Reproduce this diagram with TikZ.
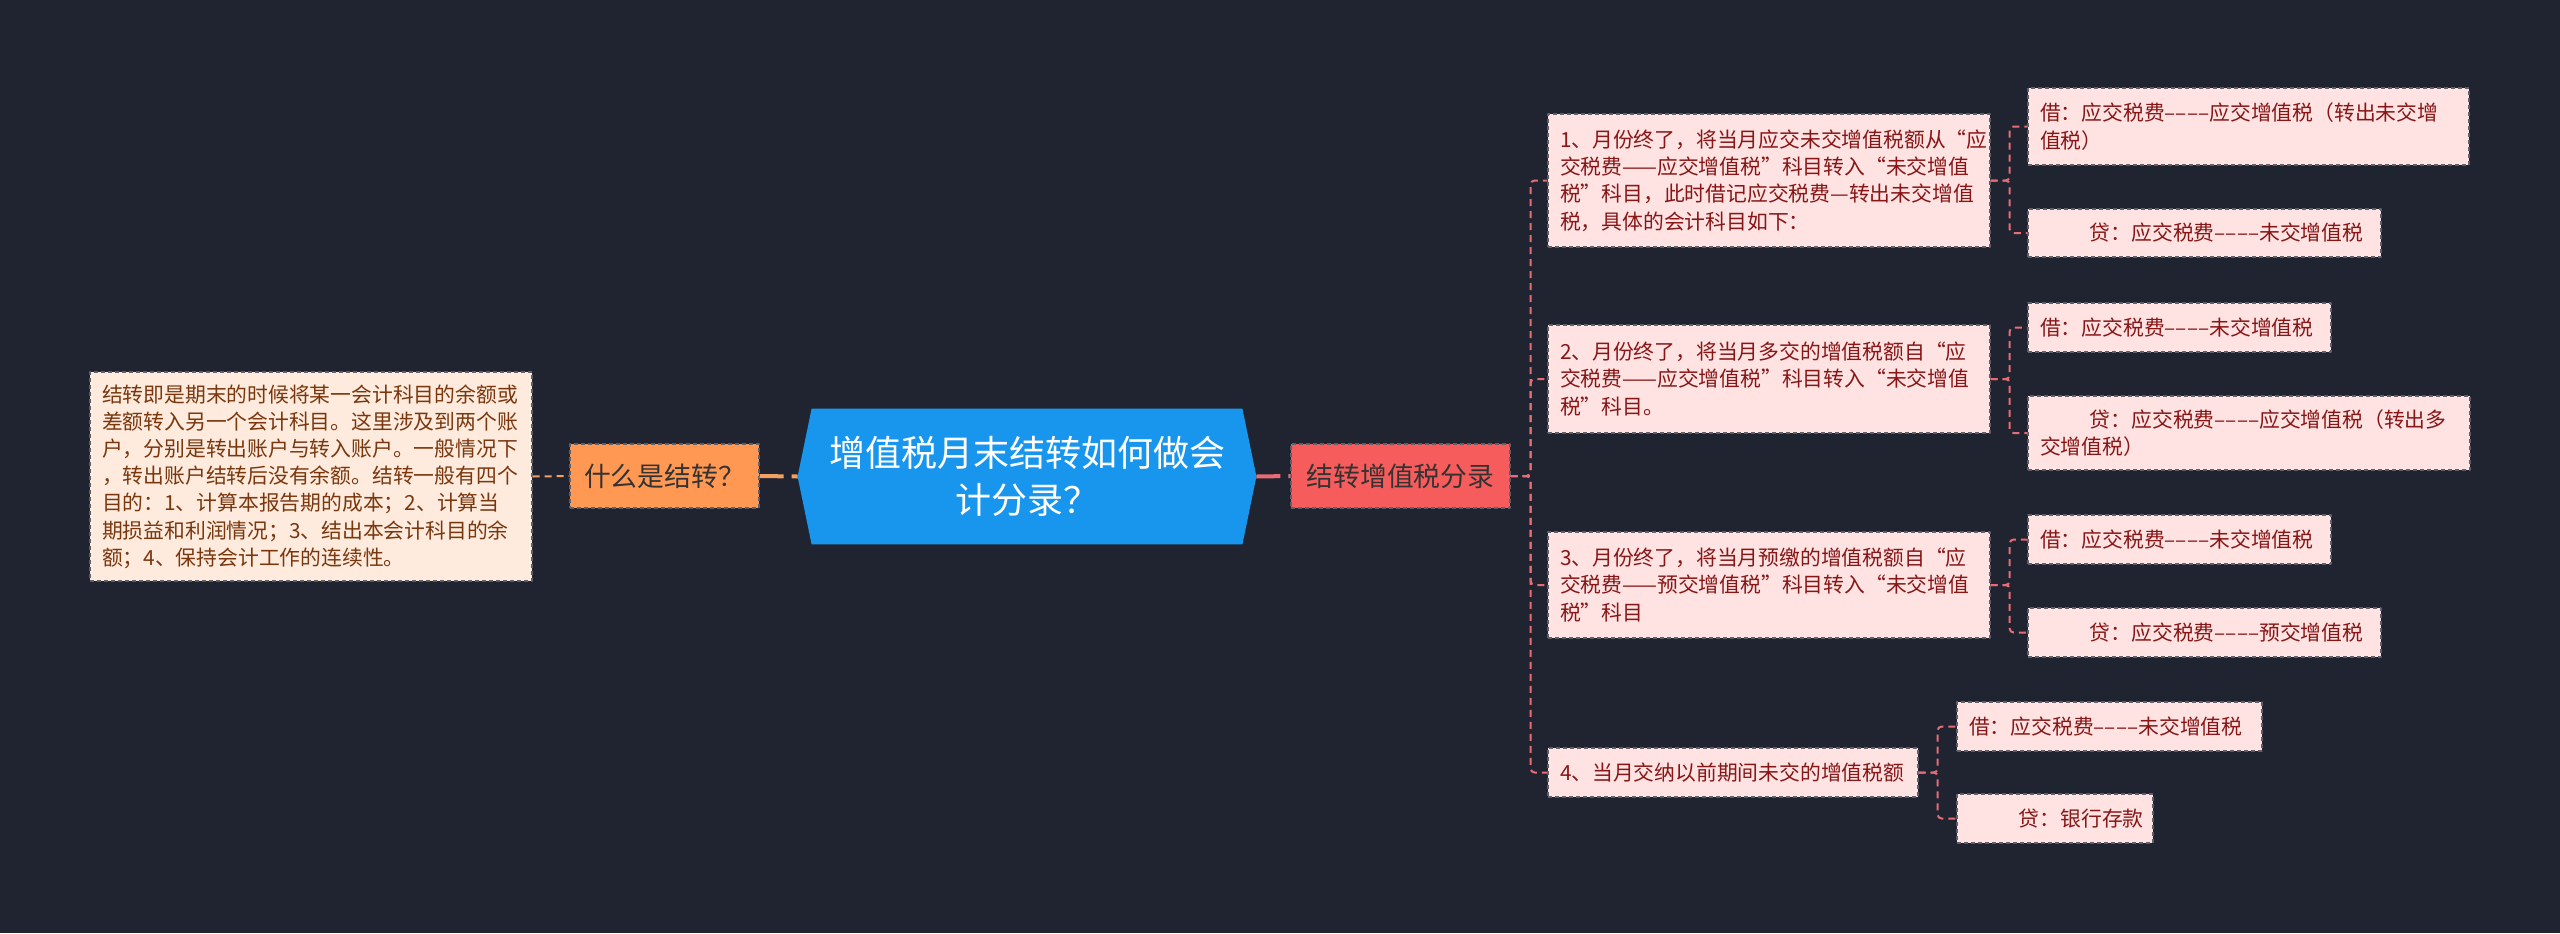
\documentclass[tikz,border=0pt]{standalone}
\usepackage{fontspec}
\setmainfont{Noto Sans CJK SC}
\definecolor{pagebg}{RGB}{32,36,48}
\definecolor{boxfill}{RGB}{255,226,226}
\definecolor{boxtext}{RGB}{135,22,22}
\definecolor{boxline}{RGB}{95,95,105}
\definecolor{peachfill}{RGB}{254,235,221}
\definecolor{peachtext}{RGB}{122,55,14}
\definecolor{orangefill}{RGB}{255,152,82}
\definecolor{redfill}{RGB}{246,92,92}
\definecolor{rootfill}{RGB}{24,150,238}
\definecolor{pinkline}{RGB}{232,108,118}
\definecolor{orangeline}{RGB}{242,160,100}
\pgfdeclarelayer{back}
\pgfsetlayers{back,main}
\begin{document}
\begin{tikzpicture}[x=0.5pt, y=-0.5pt, line join=round]
		\tikzset{
			box/.style={draw=boxline, dash pattern=on 2pt off 1.5pt, line width=0.6pt, fill=boxfill, text=boxtext, align=left, inner xsep=6pt, inner ysep=0pt, font=\fontsize{10.4}{13.6}\selectfont},
			leftbox/.style={box, fill=peachfill, text=peachtext},
			topic/.style={draw=boxline, dash pattern=on 2pt off 1.5pt, line width=0.6pt, text=black!80, align=center, minimum height=32pt, inner sep=0pt, font=\fontsize{13.4}{16}\selectfont},
			roottext/.style={text=white, align=center, minimum width=229pt, minimum height=67.5pt, inner sep=0pt, font=\fontsize{18}{23.5}\selectfont},
			plink/.style={draw=pinkline, line width=1pt, dash pattern=on 3.5pt off 2.5pt, rounded corners=2pt},
			thick link/.style={line width=2pt, dash pattern=on 12pt off 4pt}
		}
		\def\indent{\hspace*{2.4em}}
		\begin{pgfonlayer}{back}
			\fill[pagebg] (0,0) rectangle (2560,933);
		\end{pgfonlayer}
		% left side
		\node[leftbox, text width=209pt, minimum height=104.5pt] (lbox) at (311,476.5) {结转即是期末的时候将某一会计科目的余额或\\差额转入另一个会计科目。这里涉及到两个账\\户，分别是转出账户与转入账户。一般情况下\\，转出账户结转后没有余额。结转一般有四个\\目的：1、计算本报告期的成本；2、计算当\\期损益和利润情况；3、结出本会计科目的余\\额；4、保持会计工作的连续性。};
		\node[topic, fill=orangefill, minimum width=94.5pt] (what) at (664.5,476) {什么是结转？};
		% root
		\node[roottext] (root) at (1027,476.5) {增值税月末结转如何做会\\计分录？};
		\begin{pgfonlayer}{back}
			\fill[rootfill] (root.west) -- ([xshift=7pt]root.north west) -- ([xshift=-7pt]root.north east) -- (root.east) -- ([xshift=-7pt]root.south east) -- ([xshift=7pt]root.south west) -- cycle;
		\end{pgfonlayer}
		% right side
		\node[topic, fill=redfill, minimum width=109.5pt] (fenlu) at (1400.5,476) {结转增值税分录};
		\node[box, text width=209pt, minimum height=66.5pt] (b1) at (1769,180.5) {1、月份终了，将当月应交未交增值税额从“应\\交税费——应交增值税”科目转入“未交增值\\税”科目，此时借记应交税费—转出未交增值\\税，具体的会计科目如下：};
		\node[box, text width=209pt, minimum height=54pt] (b2) at (1769,379) {2、月份终了，将当月多交的增值税额自“应\\交税费——应交增值税”科目转入“未交增值\\税”科目。};
		\node[box, text width=209pt, minimum height=53pt] (b3) at (1769,585) {3、月份终了，将当月预缴的增值税额自“应\\交税费——预交增值税”科目转入“未交增值\\税”科目};
		\node[box, text width=173pt, minimum height=24.5pt] (b4) at (1733,772.5) {4、当月交纳以前期间未交的增值税额};
		% entries
		\node[box, text width=208.5pt, minimum height=38.5pt] (l1a) at (2248.5,126.5) {借：应交税费––––应交增值税（转出未交增\\值税）};
		\node[box, text width=164.5pt, minimum height=24pt] (l1b) at (2204.5,233) {\indent 贷：应交税费––––未交增值税};
		\node[box, text width=139.5pt, minimum height=24.5pt] (l2a) at (2179.5,327.5) {借：应交税费––––未交增值税};
		\node[box, text width=209pt, minimum height=37pt] (l2b) at (2249,433) {\indent 贷：应交税费––––应交增值税（转出多\\交增值税）};
		\node[box, text width=139.5pt, minimum height=24.5pt] (l3a) at (2179.5,539.5) {借：应交税费––––未交增值税};
		\node[box, text width=164.5pt, minimum height=24.5pt] (l3b) at (2204.5,632.5) {\indent 贷：应交税费––––预交增值税};
		\node[box, text width=140.5pt, minimum height=24.5pt] (l4a) at (2109.5,726.5) {借：应交税费––––未交增值税};
		\node[box, text width=86pt, minimum height=24.5pt] (l4b) at (2055,818.5) {\indent 贷：银行存款};
		% connectors
		\draw[draw=orangeline, line width=1pt, dash pattern=on 3.5pt off 2.5pt] (lbox.east) -- (what.west);
		\draw[draw=orangeline, thick link] (what.east) -- (root.west);
		\draw[draw=pinkline, thick link] (root.east) -- (fenlu.west);
		\foreach \b in {b1,b2,b3,b4}
			\draw[plink] (fenlu.east) -- ++(20,0) |- (\b.west);
		\foreach \b/\l in {b1/l1a,b1/l1b,b2/l2a,b2/l2b,b3/l3a,b3/l3b,b4/l4a,b4/l4b}
			\draw[plink] (\b.east) -- ++(19,0) |- (\l.west);
\end{tikzpicture}
\end{document}
